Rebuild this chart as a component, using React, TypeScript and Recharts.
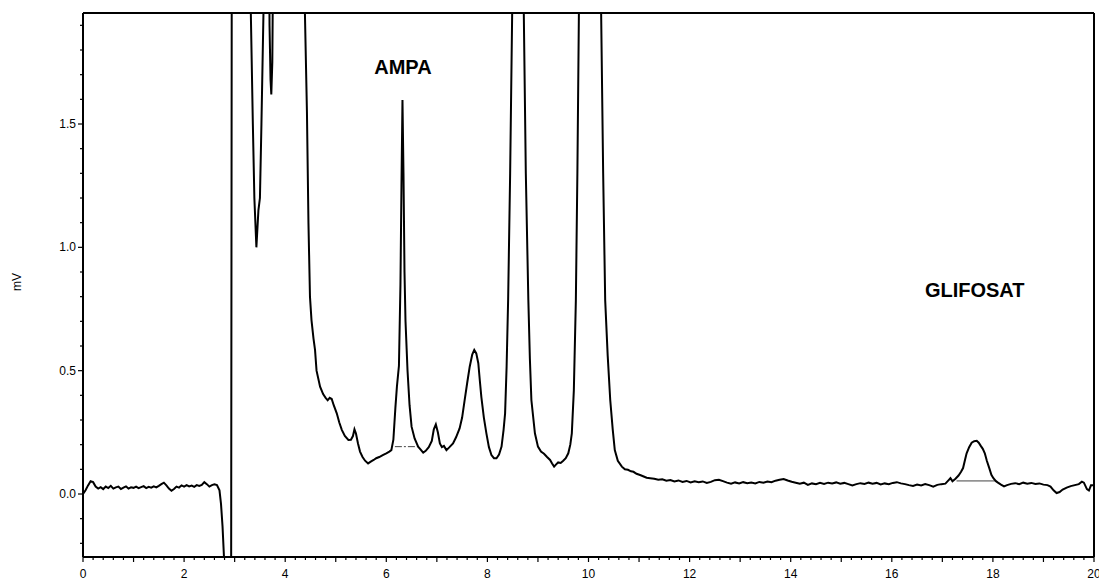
import { LineChart, Line, XAxis, YAxis, ReferenceDot } from "recharts";

const INK = "#000";
const FONT = "'Liberation Sans', Arial, Helvetica, sans-serif";

// retention time (min), detector signal (mV)
const earlyBaseline: [number, number][] = [
  [0.0, 0.0], [0.05, 0.015], [0.1, 0.035], [0.15, 0.052], [0.2, 0.048], [0.25, 0.03],
  [0.3, 0.022], [0.35, 0.028], [0.4, 0.02], [0.45, 0.03], [0.5, 0.024], [0.55, 0.033],
  [0.6, 0.022], [0.65, 0.027], [0.7, 0.03], [0.75, 0.02], [0.8, 0.026], [0.85, 0.031],
  [0.9, 0.022], [0.95, 0.027], [1.0, 0.025], [1.05, 0.03], [1.1, 0.024], [1.15, 0.028],
  [1.2, 0.032], [1.25, 0.024], [1.3, 0.029], [1.35, 0.026], [1.4, 0.031], [1.45, 0.027],
  [1.5, 0.033], [1.55, 0.04], [1.6, 0.046], [1.65, 0.035], [1.7, 0.022], [1.75, 0.013],
  [1.8, 0.02], [1.85, 0.03], [1.9, 0.026], [1.95, 0.035], [2.0, 0.03], [2.05, 0.036],
  [2.1, 0.031], [2.15, 0.034], [2.2, 0.029], [2.25, 0.036], [2.3, 0.033], [2.35, 0.037],
  [2.4, 0.048], [2.45, 0.04], [2.5, 0.03], [2.55, 0.036], [2.6, 0.039], [2.65, 0.036],
  [2.7, 0.015], [2.73, -0.04], [2.76, -0.13], [2.79, -0.26], [2.82, -0.5], [2.93, -0.5],
];

const solventFront: [number, number][] = [
  [2.945, 2.6], [3.3, 2.6], [3.32, 1.95], [3.36, 1.5], [3.39, 1.2], [3.43, 1.0],
  [3.47, 1.15], [3.5, 1.2], [3.53, 1.5], [3.57, 1.95], [3.6, 2.6], [3.67, 2.6],
  [3.69, 1.9], [3.71, 1.68], [3.725, 1.62], [3.745, 1.75], [3.77, 2.4], [3.8, 2.8],
  [4.36, 2.8], [4.39, 1.95], [4.43, 1.55], [4.46, 1.1], [4.49, 0.8], [4.52, 0.705],
  [4.56, 0.63], [4.59, 0.584], [4.62, 0.5], [4.69, 0.435], [4.75, 0.405], [4.8, 0.39],
  [4.84, 0.38], [4.88, 0.39], [4.92, 0.385], [4.96, 0.36], [5.02, 0.327], [5.07, 0.29],
  [5.12, 0.26], [5.18, 0.235], [5.25, 0.219], [5.3, 0.22], [5.34, 0.235], [5.37, 0.262],
  [5.4, 0.245], [5.44, 0.205], [5.48, 0.172], [5.53, 0.15], [5.58, 0.135], [5.64, 0.124],
  [5.7, 0.132], [5.75, 0.138], [5.8, 0.145], [5.86, 0.15], [5.93, 0.158], [6.0, 0.165],
  [6.06, 0.172], [6.1, 0.178],
];

const ampaRegion: [number, number][] = [
  [6.14, 0.22], [6.18, 0.35], [6.21, 0.435], [6.25, 0.52], [6.28, 0.85], [6.3, 1.25],
  [6.32, 1.597], [6.34, 1.3], [6.36, 0.9], [6.38, 0.7], [6.42, 0.5], [6.46, 0.36],
  [6.5, 0.273], [6.56, 0.225], [6.63, 0.192], [6.68, 0.18], [6.73, 0.168], [6.78, 0.175],
  [6.84, 0.19], [6.9, 0.215], [6.94, 0.262], [6.98, 0.282], [7.02, 0.25], [7.06, 0.205],
  [7.1, 0.19], [7.14, 0.195], [7.19, 0.178], [7.25, 0.19], [7.32, 0.205], [7.38, 0.23],
  [7.45, 0.266], [7.5, 0.31], [7.55, 0.381], [7.6, 0.45], [7.65, 0.516], [7.7, 0.565],
  [7.74, 0.584], [7.78, 0.57], [7.82, 0.53], [7.85, 0.46], [7.88, 0.394], [7.93, 0.31],
  [7.98, 0.246], [8.03, 0.19], [8.08, 0.158], [8.13, 0.145], [8.18, 0.145], [8.23, 0.16],
  [8.28, 0.192], [8.32, 0.26], [8.35, 0.327], [8.38, 0.516], [8.41, 0.786], [8.45, 1.3],
  [8.49, 1.95], [8.52, 2.8],
];

const bigPeaks: [number, number][] = [
  [8.69, 2.8], [8.72, 1.95], [8.76, 1.3], [8.81, 0.786], [8.84, 0.55], [8.87, 0.381],
  [8.94, 0.246], [9.0, 0.192], [9.06, 0.172], [9.12, 0.163], [9.18, 0.15], [9.24, 0.138],
  [9.28, 0.124], [9.32, 0.111], [9.36, 0.12], [9.4, 0.128], [9.45, 0.126], [9.5, 0.135],
  [9.55, 0.145], [9.6, 0.165], [9.64, 0.2], [9.67, 0.246], [9.71, 0.42], [9.75, 0.786],
  [9.78, 1.3], [9.81, 1.95], [9.84, 2.8], [10.22, 2.8], [10.25, 1.95], [10.29, 1.3],
  [10.33, 0.786], [10.38, 0.56], [10.43, 0.381], [10.48, 0.26], [10.52, 0.178], [10.58, 0.135],
  [10.66, 0.111], [10.72, 0.1], [10.78, 0.098], [10.84, 0.092], [10.89, 0.09], [10.95, 0.082],
  [11.02, 0.077], [11.08, 0.072], [11.15, 0.066], [11.22, 0.064],
];

const lateBaseline: [number, number][] = [
  [11.3, 0.062], [11.38, 0.058], [11.46, 0.06], [11.54, 0.054], [11.62, 0.057], [11.7, 0.051],
  [11.78, 0.055], [11.86, 0.049], [11.94, 0.053], [12.02, 0.047], [12.1, 0.052], [12.18, 0.048],
  [12.26, 0.051], [12.34, 0.045], [12.42, 0.049], [12.5, 0.056], [12.58, 0.058], [12.66, 0.052],
  [12.74, 0.046], [12.82, 0.042], [12.9, 0.047], [12.98, 0.043], [13.06, 0.048], [13.14, 0.044],
  [13.22, 0.047], [13.3, 0.043], [13.38, 0.049], [13.46, 0.046], [13.54, 0.051], [13.62, 0.048],
  [13.7, 0.054], [13.78, 0.058], [13.86, 0.061], [13.94, 0.055], [14.02, 0.05], [14.1, 0.046],
  [14.18, 0.042], [14.26, 0.046], [14.34, 0.037], [14.42, 0.043], [14.5, 0.04], [14.58, 0.045],
  [14.66, 0.041], [14.74, 0.046], [14.82, 0.043], [14.9, 0.047], [14.98, 0.042], [15.06, 0.045],
  [15.14, 0.04], [15.22, 0.035], [15.3, 0.04], [15.38, 0.044], [15.46, 0.041], [15.54, 0.046],
  [15.62, 0.042], [15.7, 0.045], [15.78, 0.039], [15.86, 0.043], [15.94, 0.04], [16.02, 0.045],
  [16.1, 0.048], [16.18, 0.043], [16.26, 0.04], [16.34, 0.036], [16.42, 0.033], [16.5, 0.038],
  [16.58, 0.035], [16.66, 0.04], [16.74, 0.036], [16.82, 0.03], [16.9, 0.037], [16.98, 0.04],
  [17.06, 0.042], [17.12, 0.055], [17.16, 0.064], [17.2, 0.052],
];

const glifosatRegion: [number, number][] = [
  [17.26, 0.062], [17.32, 0.075], [17.37, 0.09], [17.41, 0.105], [17.45, 0.14], [17.48, 0.165],
  [17.53, 0.19], [17.58, 0.208], [17.63, 0.214], [17.68, 0.216], [17.72, 0.208], [17.76, 0.195],
  [17.8, 0.183], [17.84, 0.165], [17.88, 0.135], [17.93, 0.104], [17.97, 0.078], [18.01, 0.064],
  [18.06, 0.052], [18.1, 0.046], [18.16, 0.038], [18.22, 0.031], [18.28, 0.036], [18.36, 0.041],
  [18.44, 0.044], [18.52, 0.04], [18.6, 0.046], [18.68, 0.042], [18.76, 0.045], [18.84, 0.041],
  [18.92, 0.043], [19.0, 0.038], [19.08, 0.036], [19.14, 0.03], [19.2, 0.015], [19.26, 0.004],
  [19.32, 0.008], [19.38, 0.018], [19.46, 0.026], [19.54, 0.032], [19.62, 0.036], [19.7, 0.04],
  [19.76, 0.05], [19.8, 0.046], [19.86, 0.02], [19.9, 0.014], [19.94, 0.035], [20.0, 0.035],
];

// integration baselines drawn under the two analyte peaks
const ampaBaseline: [number, number][] = [[6.17, 0.192], [6.63, 0.192]];
const glifosatBaseline: [number, number][] = [[17.28, 0.053], [18.04, 0.053]];

// peak labels: [name, time, mV]
const peakLabels: [string, number, number][] = [
  ["AMPA", 6.33, 1.731],
  ["GLIFOSAT", 17.64, 0.827],
];

const xLabelTicks = [0, 2, 4, 6, 8, 10, 12, 14, 16, 18, 20];
const yLabelTicks = [0.0, 0.5, 1.0, 1.5];
const xTicks = Array.from({ length: 101 }, (_, i) => +(i * 0.2).toFixed(1));
const yTicks = Array.from({ length: 22 }, (_, i) => +(-0.2 + i * 0.1).toFixed(1));

const toRows = (pts: [number, number][]) => pts.map(([t, v]) => ({ t, v }));
const trace = toRows([
  ...earlyBaseline, ...solventFront, ...ampaRegion, ...bigPeaks, ...lateBaseline, ...glifosatRegion,
]);

const near = (a: number, b: number) => Math.abs(a - b) < 1e-6;

function XTick(props: any) {
  const { x, y, payload } = props;
  const v = payload.value as number;
  const major = near(v, Math.round(v));
  const labelled = xLabelTicks.some((t) => near(t, v));
  return (
    <g>
      <line x1={x} x2={x} y1={y} y2={y + (major ? 5 : 3)} stroke={INK} strokeWidth={1.2} />
      {labelled && (
        <text x={x} y={y + 21} textAnchor="middle" fontSize={12} fontFamily={FONT} fill={INK}>
          {Math.round(v)}
        </text>
      )}
    </g>
  );
}

function YTick(props: any) {
  const { x, y, payload } = props;
  const v = payload.value as number;
  const labelled = yLabelTicks.some((t) => near(t, v));
  return (
    <g>
      <line x1={x - (labelled ? 5 : 3)} x2={x} y1={y} y2={y} stroke={INK} strokeWidth={1.2} />
      {labelled && (
        <text x={x - 7} y={y + 4} textAnchor="end" fontSize={12} fontFamily={FONT} fill={INK}>
          {v.toFixed(1)}
        </text>
      )}
    </g>
  );
}

function UnitLabel(props: any) {
  const vb = props.viewBox ?? { x: 0, y: 13, width: 83, height: 544 };
  const x = vb.x + 21;
  const y = vb.y + vb.height / 2 - 3;
  return (
    <text x={x} y={y} transform={`rotate(-90 ${x} ${y})`} textAnchor="middle" fontSize={12} fontFamily={FONT} fill={INK}>
      mV
    </text>
  );
}

const Y_DOMAIN: [number, number] = [-0.2554, 1.95];

export default function App() {
  return (
    <div style={{ position: "absolute", left: 0, top: 0, background: "#fff" }}>
      <LineChart width={1099} height={581} margin={{ top: 12, right: 0, bottom: 0, left: 0 }}>
        <XAxis
          dataKey="t"
          type="number"
          domain={[0, 20]}
          allowDataOverflow
          ticks={xTicks}
          interval={0}
          height={24}
          tickSize={0}
          tickMargin={0}
          tickLine={false}
          tick={<XTick />}
          axisLine={{ stroke: INK, strokeWidth: 2 }}
        />
        <XAxis xAxisId="top" orientation="top" type="number" domain={[0, 20]} height={1} tick={false} tickLine={false} axisLine={{ stroke: INK, strokeWidth: 2 }} />
        <YAxis
          type="number"
          domain={Y_DOMAIN}
          allowDataOverflow
          ticks={yTicks}
          interval={0}
          width={83}
          tickSize={0}
          tickMargin={0}
          tickLine={false}
          tick={<YTick />}
          axisLine={{ stroke: INK, strokeWidth: 2 }}
          label={UnitLabel}
        />
        <YAxis yAxisId="right" orientation="right" type="number" domain={Y_DOMAIN} width={5} tick={false} tickLine={false} axisLine={{ stroke: INK, strokeWidth: 2 }} />
        <Line data={toRows(ampaBaseline)} dataKey="v" stroke="#444" strokeWidth={1} strokeDasharray="7 2 2 2" dot={false} isAnimationActive={false} />
        <Line data={toRows(glifosatBaseline)} dataKey="v" stroke="#444" strokeWidth={1} dot={false} isAnimationActive={false} />
        <Line data={trace} dataKey="v" stroke={INK} strokeWidth={2} dot={false} isAnimationActive={false} />
        {peakLabels.map(([name, t, v]) => (
          <ReferenceDot
            key={name}
            x={t}
            y={v}
            r={0}
            fill="none"
            stroke="none"
            label={{ value: name, position: "center", fontSize: 20, fontWeight: 700, fill: INK, fontFamily: FONT }}
          />
        ))}
      </LineChart>
    </div>
  );
}
